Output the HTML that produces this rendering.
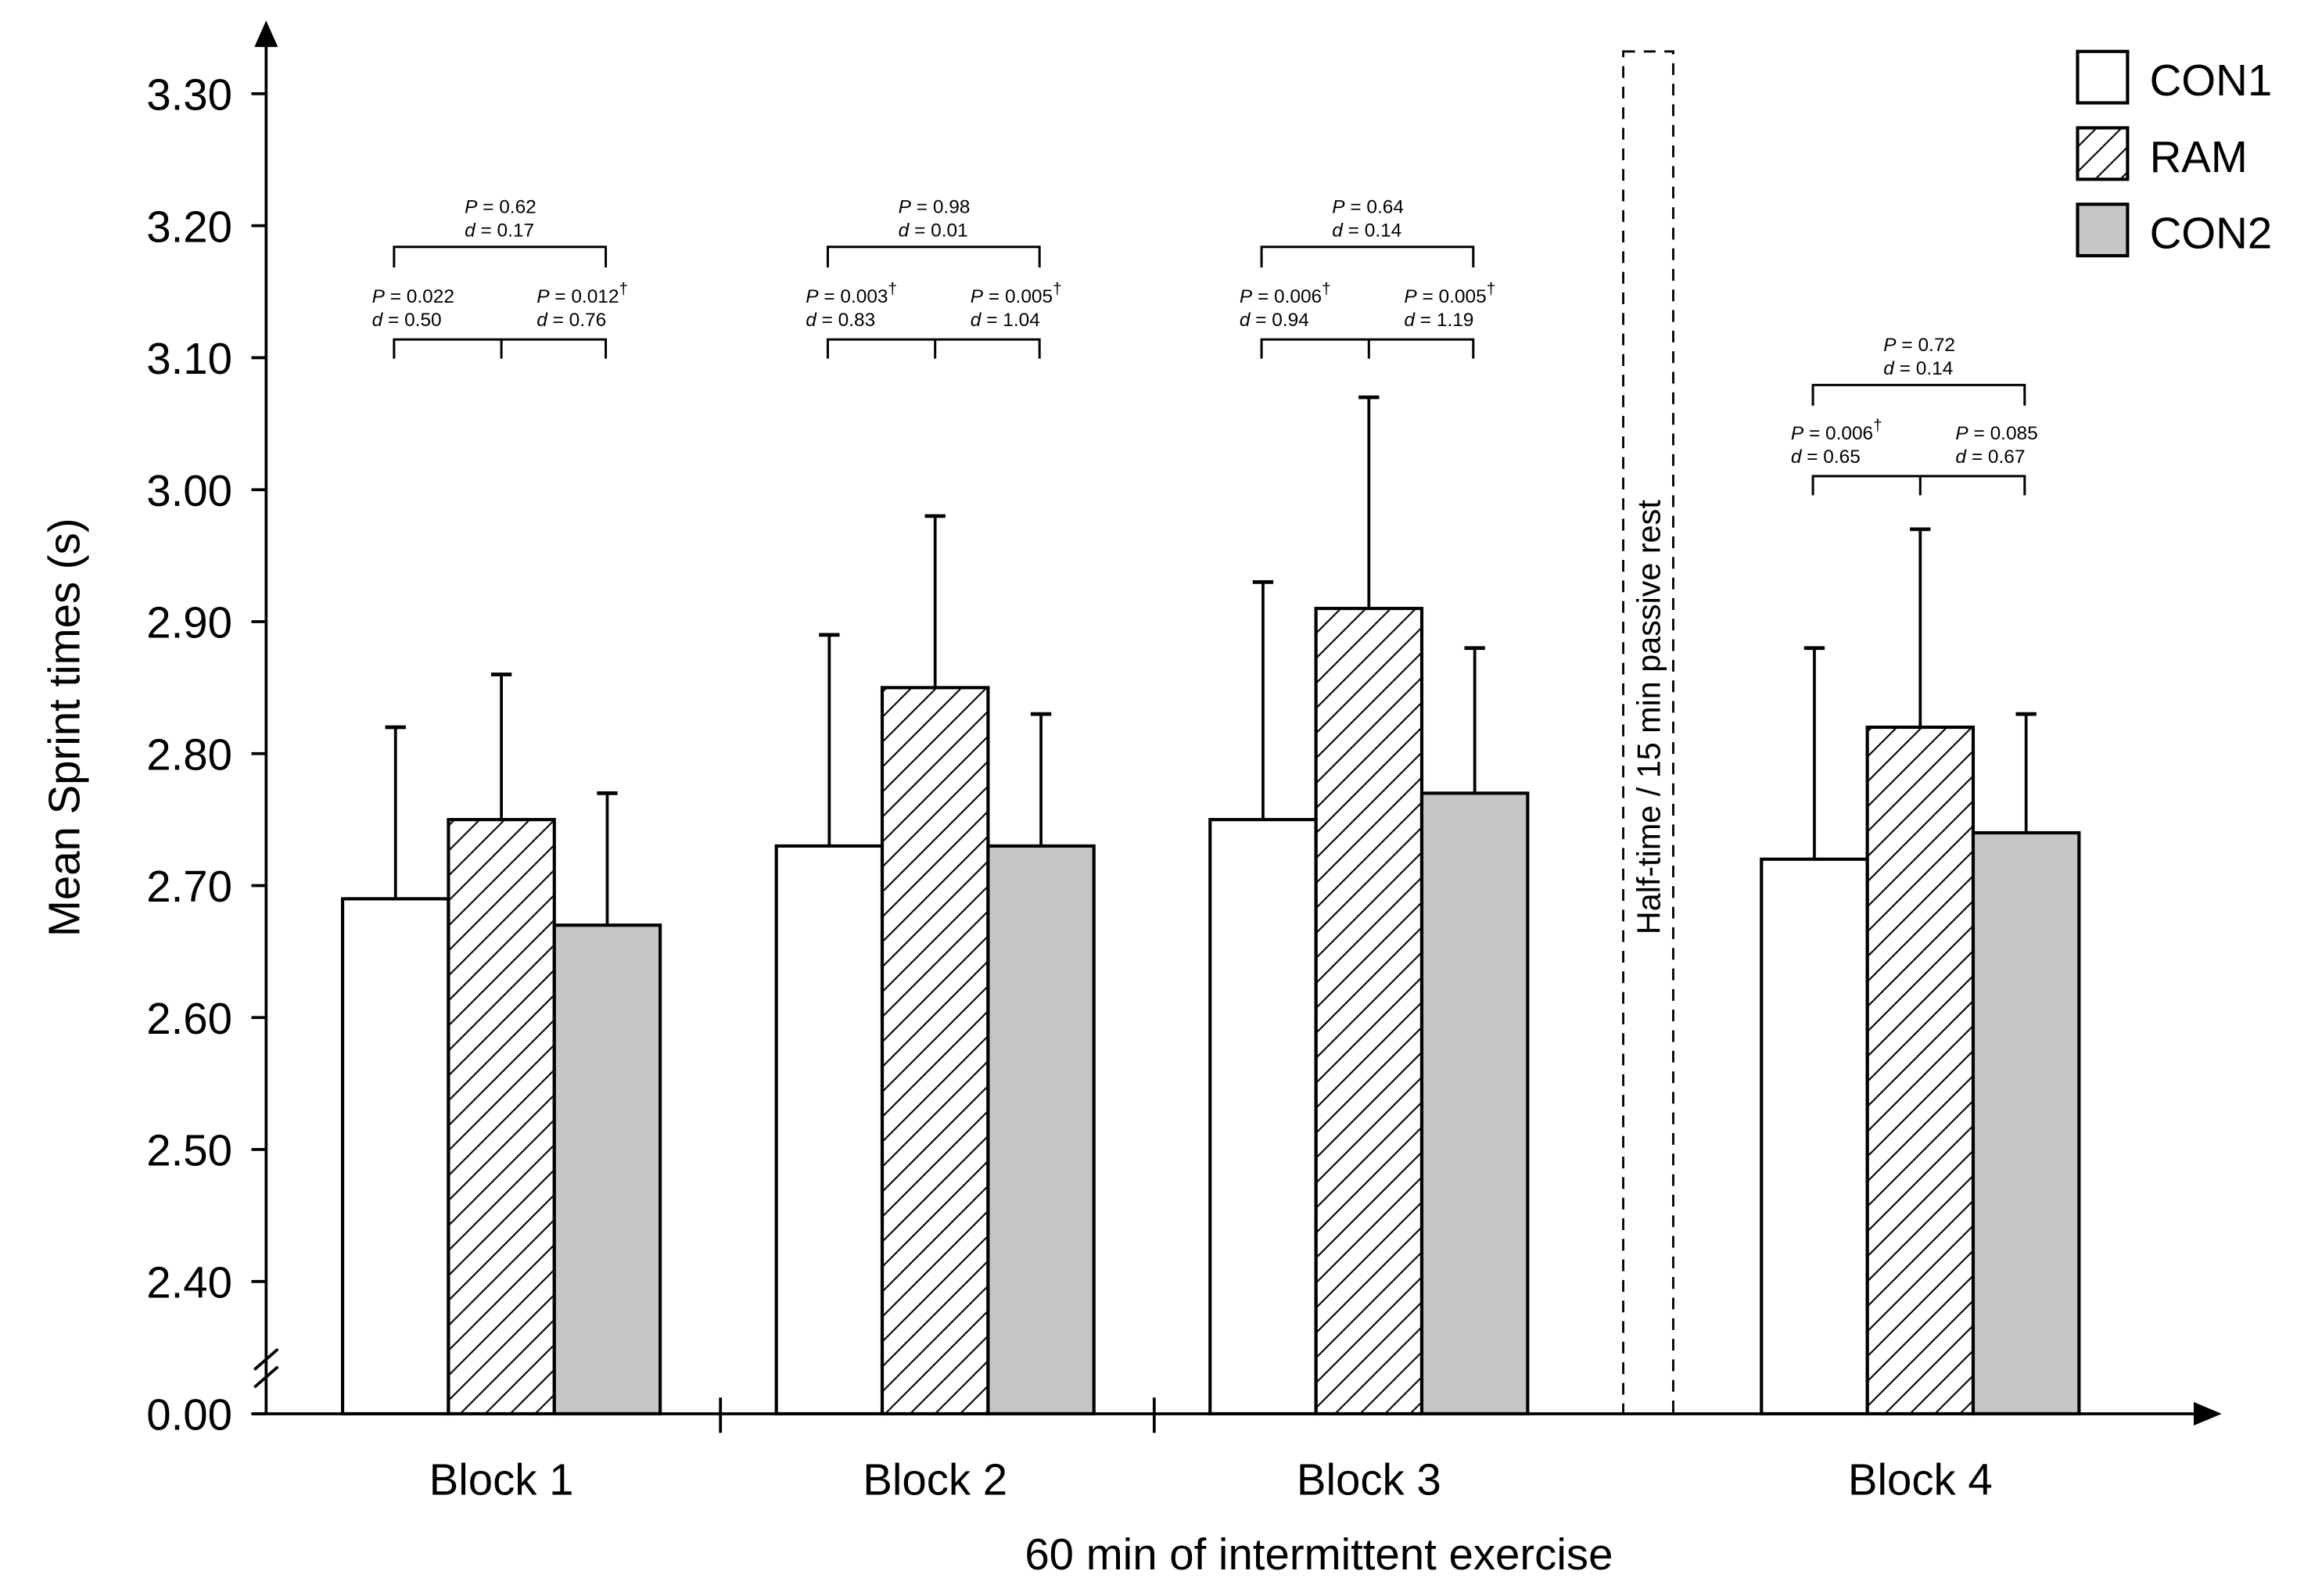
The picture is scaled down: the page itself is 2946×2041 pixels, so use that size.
<!DOCTYPE html>
<html><head><meta charset="utf-8"><style>
html,body{margin:0;padding:0;background:#fff}
svg{display:block}
text{font-family:"Liberation Sans",sans-serif;fill:#000}
</style></head><body>
<svg id="chart" width="2946" height="2041" viewBox="0 0 1567 1086" preserveAspectRatio="none" xmlns="http://www.w3.org/2000/svg">
<defs>
<pattern id="hatch" patternUnits="userSpaceOnUse" width="17" height="17">
<path d="M-2,19 L19,-2 M-2,2 L2,-2 M15,19 L19,15" stroke="#000" stroke-width="1.1"/>
</pattern>
</defs>
<g id="plot"></g>
</svg>
<script>
const blocks = ["Block 1","Block 2","Block 3","Block 4"];
const seriesNames = ["CON1","RAM","CON2"];
const con1 = [2.69, 2.73, 2.75, 2.72];
const ram  = [2.75, 2.85, 2.91, 2.82];
const con2 = [2.67, 2.73, 2.77, 2.74];
const con1Err = [2.82, 2.89, 2.93, 2.88];
const ramErr  = [2.86, 2.98, 3.07, 2.97];
const con2Err = [2.77, 2.83, 2.88, 2.83];
const yTicks = [2.40, 2.50, 2.60, 2.70, 2.80, 2.90, 3.00, 3.10, 3.20, 3.30];
const topP = ["0.62","0.98","0.64","0.72"];
const topD = ["0.17","0.01","0.14","0.14"];
const leftP = ["0.022","0.003†","0.006†","0.006†"];
const leftD = ["0.50","0.83","0.94","0.65"];
const rightP = ["0.012†","0.005†","0.005†","0.085"];
const rightD = ["0.76","1.04","1.19","0.67"];

const NS = "http://www.w3.org/2000/svg";
const g = document.getElementById("plot");
function el(tag, attrs, parent){ const e=document.createElementNS(NS,tag); for(const k in attrs) e.setAttribute(k,attrs[k]); (parent||g).appendChild(e); return e; }
const y = v => 872 - (v-2.40)*898;
const groupCenters = [341, 636, 931, 1306];
const barW = 72;
const fills = ["#fff","url(#hatch)","#c6c6c6"];
const vals = [con1, ram, con2];
const errs = [con1Err, ramErr, con2Err];

let e;
e = el("line",{x1:181,y1:962,x2:181,y2:28,stroke:"#000","stroke-width":2});


e = el("path",{d:"M173,32 L181,14 L189,32 Z",fill:"#000"});


e = el("line",{x1:171,y1:962,x2:1495,y2:962,stroke:"#000","stroke-width":2});


e = el("path",{d:"M1492,954 L1511,962 L1492,970 Z",fill:"#000"});


e = el("path",{d:"M173,932 L189,918 M173,944 L189,930",stroke:"#000","stroke-width":2,fill:"none"});



yTicks.forEach(t=>{
  const l = el("line",{x1:171,y1:y(t),x2:181,y2:y(t),stroke:"#000","stroke-width":2});
  
  
  const tx = el("text",{x:158,y:y(t)+11,"font-size":30,"text-anchor":"end"});
  tx.textContent = t.toFixed(2);
  
  
});
e = el("line",{x1:171,y1:962,x2:181,y2:962,stroke:"#000","stroke-width":2});
e = el("text",{x:158,y:973,"font-size":30,"text-anchor":"end"}); e.textContent="0.00";



[490,785].forEach(x=>{
  const l = el("line",{x1:x,y1:951,x2:x,y2:975,stroke:"#000","stroke-width":2});
  
  
});

e = el("rect",{x:1104,y:35,width:34,height:927,fill:"none",stroke:"#000","stroke-width":1.5,"stroke-dasharray":"8,6"});


e = el("text",{x:0,y:0,"font-size":22,"text-anchor":"middle",transform:"translate(1129,488) rotate(-90)"});
e.textContent = "Half-time / 15 min passive rest";



blocks.forEach((b,i)=>{
  const c = groupCenters[i];
  for(let s=0;s<3;s++){
    const x0 = c - 1.5*barW + s*barW;
    const top = y(vals[s][i]);
    const cx = x0 + barW/2;
    const et = y(errs[s][i]);
    const ln = el("line",{x1:cx,y1:top,x2:cx,y2:et,stroke:"#000","stroke-width":2});
    
    
    const cap = el("line",{x1:cx-7,y1:et,x2:cx+7,y2:et,stroke:"#000","stroke-width":2.5});
    
    
    const r = el("rect",{x:x0,y:top,width:barW,height:962-top,fill:fills[s],stroke:"#000","stroke-width":2.2});
    
    
  }
  const lab = el("text",{x:c,y:1017,"font-size":30,"text-anchor":"middle"});
  lab.textContent = b;
  
  

  const L = c-73, R = c+71;
  const base = i===3 ? 324 : 231;
  const topB = i===3 ? 262 : 168;
  const br1 = el("path",{d:`M${L},${topB+14} V${topB} H${R} V${topB+14}`,stroke:"#000","stroke-width":1.6,fill:"none"});
  
  
  const br2 = el("path",{d:`M${L},${base+13} V${base} H${R} V${base+13} M${c},${base} V${base+13}`,stroke:"#000","stroke-width":1.6,fill:"none"});
  
  
  function stat(x,yy,letter,val,anchor,name){
    const t = el("text",{x:x,y:yy,"font-size":13,"text-anchor":anchor});
    const it = document.createElementNS(NS,"tspan"); it.setAttribute("font-style","italic"); it.textContent=letter; t.appendChild(it);
    let v = val, dag = v.endsWith("†"); if(dag) v=v.slice(0,-1);
    const rest = document.createElementNS(NS,"tspan"); rest.textContent=" = "+v; t.appendChild(rest);
    if(dag){ const d=document.createElementNS(NS,"tspan"); d.setAttribute("dy","-6"); d.setAttribute("font-size","11"); d.textContent="†"; t.appendChild(d); }
    
    
  }
  stat(c-25, topB-23, "P", topP[i], "start", "top-p-value");
  stat(c-25, topB-7, "d", topD[i], "start", "top-effect-size");
  stat(L-15, base-25, "P", leftP[i], "start", "left-p-value");
  stat(L-15, base-9, "d", leftD[i], "start", "left-effect-size");
  stat(c+24, base-25, "P", rightP[i], "start", "right-p-value");
  stat(c+24, base-9, "d", rightD[i], "start", "right-effect-size");
});

seriesNames.forEach((n,s)=>{
  const yy = 35 + s*52;
  const r = el("rect",{x:1413,y:yy,width:34,height:35,fill:fills[s],stroke:"#000","stroke-width":2.2});
  
  
  const t = el("text",{x:1462,y:yy+30,"font-size":30});
  t.textContent = n;
  
  
});

e = el("text",{x:0,y:0,"font-size":30,"text-anchor":"middle",transform:"translate(54,495) rotate(-90)"});
e.textContent = "Mean Sprint times (s)";


e = el("text",{x:897,y:1068,"font-size":30,"text-anchor":"middle"});
e.textContent = "60 min of intermittent exercise";


</script>
</body></html>
